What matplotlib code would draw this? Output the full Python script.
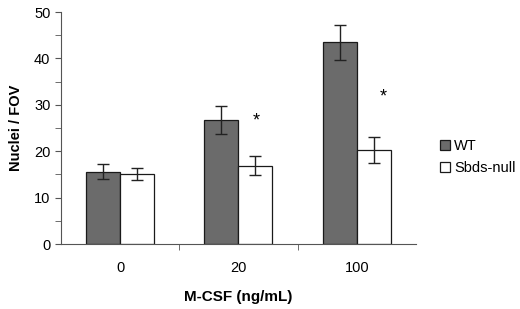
import matplotlib
matplotlib.use("Agg")
import matplotlib.pyplot as plt
import numpy as np
from matplotlib.ticker import MultipleLocator

plt.rcParams["font.family"] = ["Liberation Sans", "DejaVu Sans"]

categories = ["0", "20", "100"]
wt_values = [15.6, 26.7, 43.5]
wt_err = [1.6, 3.0, 3.8]
null_values = [15.2, 16.9, 20.3]
null_err = [1.3, 2.1, 2.8]
star_groups = [1, 2]
star_x_offset = [0.15, 0.22]
star_y = [26.5, 31.7]

fig = plt.figure(figsize=(5.2, 3.09), dpi=100)
ax = fig.add_axes([0.117, 0.21, 0.683, 0.751])

x = np.arange(len(categories))
w = 0.287
ekw = dict(elinewidth=1.0, capthick=1.0, ecolor="#222222")
ax.bar(x - w / 2, wt_values, w, yerr=wt_err, capsize=4.5, color="#6b6b6b",
       edgecolor="#1a1a1a", linewidth=0.9, label="WT", error_kw=ekw)
ax.bar(x + w / 2, null_values, w, yerr=null_err, capsize=4.5, color="white",
       edgecolor="#1a1a1a", linewidth=0.9, label="Sbds-null", error_kw=ekw)

for g, dx, y in zip(star_groups, star_x_offset, star_y):
    ax.text(g + dx, y, "*", ha="center", va="center", fontsize=13)

ax.set_xlim(-0.5, 2.5)
ax.set_ylim(0, 50)
ax.yaxis.set_major_locator(MultipleLocator(10))
ax.yaxis.set_minor_locator(MultipleLocator(5))
ax.set_xticks([0.5, 1.5], minor=True)
ax.set_xticks(x)
ax.set_xticklabels(categories)
ax.tick_params(axis="x", which="major", length=0, pad=12, labelsize=10.5)
ax.tick_params(axis="x", which="minor", length=4, color="#555555")
ax.tick_params(axis="y", which="both", length=4, color="#555555", labelsize=10.5)

for s in ["top", "right"]:
    ax.spines[s].set_visible(False)
for s in ["left", "bottom"]:
    ax.spines[s].set_color("#555555")

ax.set_ylabel("Nuclei / FOV", fontsize=10.5, fontweight="bold", labelpad=8)
ax.set_xlabel("M-CSF (ng/mL)", fontsize=11, fontweight="bold", labelpad=11)

ax.legend(loc="center left", bbox_to_anchor=(1.03, 0.375), frameon=False,
          fontsize=10.5, handlelength=0.7, handleheight=0.7, handletextpad=0.3,
          labelspacing=0.6)

fig.savefig("out.png", dpi=100)
